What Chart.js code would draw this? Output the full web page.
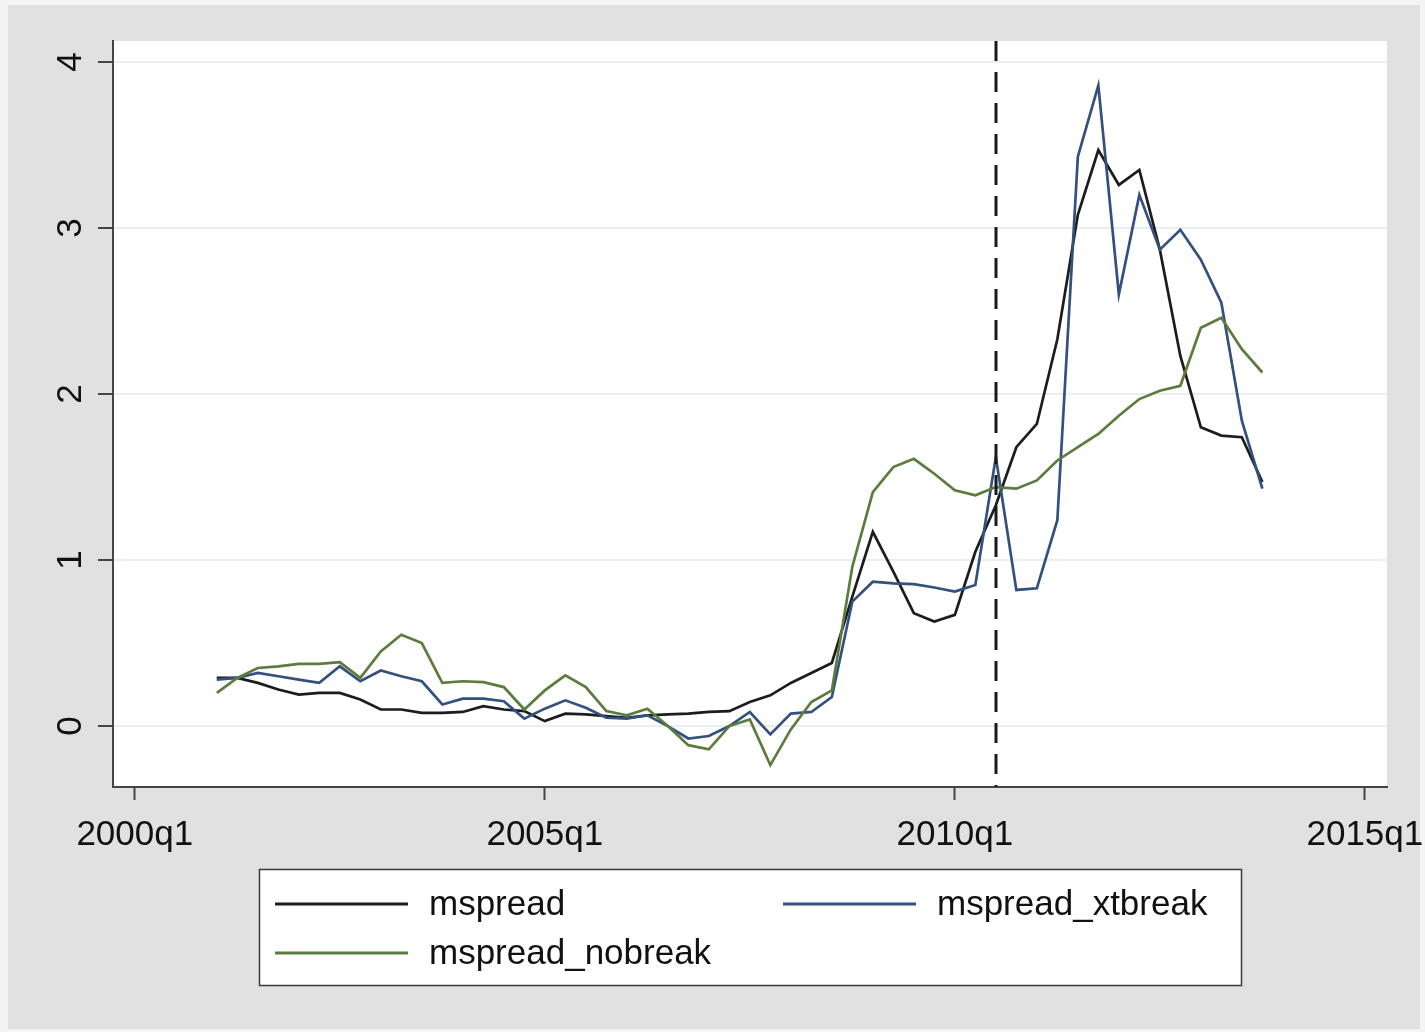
<!DOCTYPE html>
<html>
<head>
<meta charset="utf-8">
<title>mspread</title>
<script src="https://cdn.jsdelivr.net/npm/chart.js@4/dist/chart.umd.min.js"></script>
<style>
  html, body { margin: 0; padding: 0; background: #f4f4f4; }
  canvas { display: block; }
</style>
</head>
<body>
<canvas id="chart" width="1425" height="1032"></canvas>
<script>
// Quarterly observations, 2001q1 - 2013q4
const quarters = [
  '2001q1','2001q2','2001q3','2001q4','2002q1','2002q2','2002q3','2002q4',
  '2003q1','2003q2','2003q3','2003q4','2004q1','2004q2','2004q3','2004q4',
  '2005q1','2005q2','2005q3','2005q4','2006q1','2006q2','2006q3','2006q4',
  '2007q1','2007q2','2007q3','2007q4','2008q1','2008q2','2008q3','2008q4',
  '2009q1','2009q2','2009q3','2009q4','2010q1','2010q2','2010q3','2010q4',
  '2011q1','2011q2','2011q3','2011q4','2012q1','2012q2','2012q3','2012q4',
  '2013q1','2013q2','2013q3','2013q4'
];

const mspread = [
  0.29, 0.29, 0.26, 0.22, 0.19, 0.20, 0.20, 0.16,
  0.10, 0.10, 0.08, 0.08, 0.085, 0.12, 0.10, 0.09,
  0.03, 0.075, 0.07, 0.06, 0.05, 0.065, 0.07, 0.075,
  0.085, 0.09, 0.145, 0.185, 0.26, 0.32, 0.38, 0.78,
  1.17, 0.93, 0.68, 0.63, 0.67, 1.05, 1.33, 1.68,
  1.82, 2.33, 3.08, 3.47, 3.26, 3.35, 2.87, 2.23,
  1.80, 1.75, 1.74, 1.47
];

const mspreadXtbreak = [
  0.28, 0.29, 0.32, 0.30, 0.28, 0.26, 0.36, 0.27,
  0.335, 0.30, 0.27, 0.13, 0.165, 0.165, 0.15, 0.045,
  0.105, 0.155, 0.11, 0.05, 0.045, 0.065, 0.0, -0.075,
  -0.06, 0.0, 0.085, -0.05, 0.075, 0.085, 0.175, 0.75,
  0.87, 0.86, 0.855, 0.835, 0.81, 0.85, 1.62, 0.82,
  0.83, 1.24, 3.43, 3.86, 2.60, 3.20, 2.87, 2.99,
  2.81, 2.55, 1.84, 1.43
];

const mspreadNobreak = [
  0.20, 0.29, 0.35, 0.36, 0.375, 0.375, 0.385, 0.29,
  0.45, 0.55, 0.50, 0.26, 0.27, 0.265, 0.235, 0.10,
  0.215, 0.305, 0.235, 0.09, 0.065, 0.105, 0.0, -0.115,
  -0.14, 0.0, 0.04, -0.235, -0.02, 0.145, 0.215, 0.96,
  1.41, 1.56, 1.61, 1.52, 1.42, 1.39, 1.44, 1.43,
  1.48, 1.60, 1.68, 1.76, 1.87, 1.97, 2.02, 2.05,
  2.40, 2.46, 2.27, 2.13
];

const xTickLabels = ['2000q1', '2005q1', '2010q1', '2015q1'];
const yTickValues = [0, 1, 2, 3, 4];
const breakQuarter = '2010q3';

// quarter label -> number of quarters since 2000q1
function quarterIndex(label) {
  const year = parseInt(label.slice(0, 4), 10);
  const q = parseInt(label.slice(5), 10);
  return (year - 2000) * 4 + (q - 1);
}

function toPoints(values) {
  return values.map((v, i) => ({ x: quarterIndex(quarters[i]), y: v }));
}

const FONT = '"Liberation Sans", Arial, Helvetica, sans-serif';

// Gray graph region with white plot region
const backgroundPlugin = {
  id: 'background',
  beforeDraw(chart) {
    const { ctx, chartArea } = chart;
    ctx.save();
    ctx.fillStyle = '#e1e1e1';
    ctx.fillRect(8, 5, 1412, 1024);
    ctx.fillStyle = '#ffffff';
    ctx.fillRect(chartArea.left, chartArea.top,
                 chartArea.right - chartArea.left, chartArea.bottom - chartArea.top);
    ctx.restore();
  }
};

// Dashed vertical line at the break date
const breakLinePlugin = {
  id: 'breakLine',
  afterDatasetsDraw(chart) {
    const { ctx, chartArea, scales } = chart;
    const x = Math.round(scales.x.getPixelForValue(quarterIndex(breakQuarter)));
    ctx.save();
    ctx.strokeStyle = '#1a1a1a';
    ctx.lineWidth = 3;
    ctx.setLineDash([20, 11]);
    ctx.beginPath();
    ctx.moveTo(x, chartArea.top);
    ctx.lineTo(x, chartArea.bottom);
    ctx.stroke();
    ctx.restore();
  }
};

// Boxed legend below the plot, two columns
const boxLegendPlugin = {
  id: 'boxLegend',
  afterDraw(chart) {
    const { ctx } = chart;
    const box = { x: 259, y: 869, w: 982, h: 116 };
    ctx.save();
    ctx.fillStyle = '#ffffff';
    ctx.fillRect(box.x, box.y, box.w, box.h);
    ctx.strokeStyle = '#3a3a3a';
    ctx.lineWidth = 1.5;
    ctx.strokeRect(box.x + 0.5, box.y + 0.5, box.w, box.h);

    const cols = [{ line: 275, text: 429 }, { line: 783, text: 937 }];
    const rows = [904, 953];
    const sampleLen = 133;
    ctx.font = '35px ' + FONT;
    ctx.textBaseline = 'middle';
    ctx.textAlign = 'left';
    chart.data.datasets.forEach((ds, i) => {
      const c = cols[i % 2];
      const y = rows[Math.floor(i / 2)];
      ctx.strokeStyle = ds.borderColor;
      ctx.lineWidth = 2.8;
      ctx.beginPath();
      ctx.moveTo(c.line, y);
      ctx.lineTo(c.line + sampleLen, y);
      ctx.stroke();
      ctx.fillStyle = '#111111';
      ctx.fillText(ds.label, c.text, y + 1);
    });
    ctx.restore();
  }
};

const ctx = document.getElementById('chart').getContext('2d');
new Chart(ctx, {
  type: 'line',
  data: {
    datasets: [
      { label: 'mspread', data: toPoints(mspread),
        borderColor: '#1c1c1c', order: 3 },
      { label: 'mspread_xtbreak', data: toPoints(mspreadXtbreak),
        borderColor: '#34507f', order: 2 },
      { label: 'mspread_nobreak', data: toPoints(mspreadNobreak),
        borderColor: '#5c7c3e', order: 1 }
    ]
  },
  options: {
    responsive: false,
    animation: false,
    devicePixelRatio: 1,
    layout: { padding: { left: 0, top: 41, right: 38, bottom: 0 } },
    elements: {
      line: { borderWidth: 2.7, tension: 0, fill: false, borderJoinStyle: 'miter' },
      point: { radius: 0, hoverRadius: 0 }
    },
    plugins: {
      legend: { display: false },
      tooltip: { enabled: false }
    },
    scales: {
      x: {
        type: 'linear',
        min: -1.063,
        max: 61.08,
        afterFit(scale) {
          scale.height = 1032 - 787;
          scale.paddingLeft = 0;
          scale.paddingRight = 0;
        },
        afterBuildTicks(scale) {
          scale.ticks = xTickLabels.map(l => ({ value: quarterIndex(l) }));
        },
        ticks: {
          autoSkip: false,
          maxRotation: 0,
          minRotation: 0,
          padding: 14,
          color: '#111111',
          font: { family: FONT, size: 35 },
          callback(value) {
            const hit = xTickLabels.find(l => quarterIndex(l) === value);
            return hit || '';
          }
        },
        grid: {
          drawOnChartArea: false,
          drawTicks: true,
          tickLength: 13,
          tickColor: '#444444',
          tickWidth: 2
        },
        border: { display: true, color: '#444444', width: 2 }
      },
      y: {
        type: 'linear',
        min: -0.367,
        max: 4.127,
        afterFit(scale) {
          scale.width = 113;
          scale.paddingTop = 0;
          scale.paddingBottom = 0;
        },
        afterBuildTicks(scale) {
          scale.ticks = yTickValues.map(v => ({ value: v }));
        },
        ticks: {
          autoSkip: false,
          minRotation: 90,
          maxRotation: 90,
          crossAlign: 'center',
          padding: 17,
          color: '#111111',
          font: { family: FONT, size: 35 },
          callback(value) { return String(value); }
        },
        grid: {
          color: '#e7eff0',
          lineWidth: 2,
          drawTicks: true,
          tickLength: 15,
          tickColor: '#444444',
          tickWidth: 2
        },
        border: { display: true, color: '#444444', width: 2 }
      }
    }
  },
  plugins: [backgroundPlugin, breakLinePlugin, boxLegendPlugin]
});
</script>
</body>
</html>
